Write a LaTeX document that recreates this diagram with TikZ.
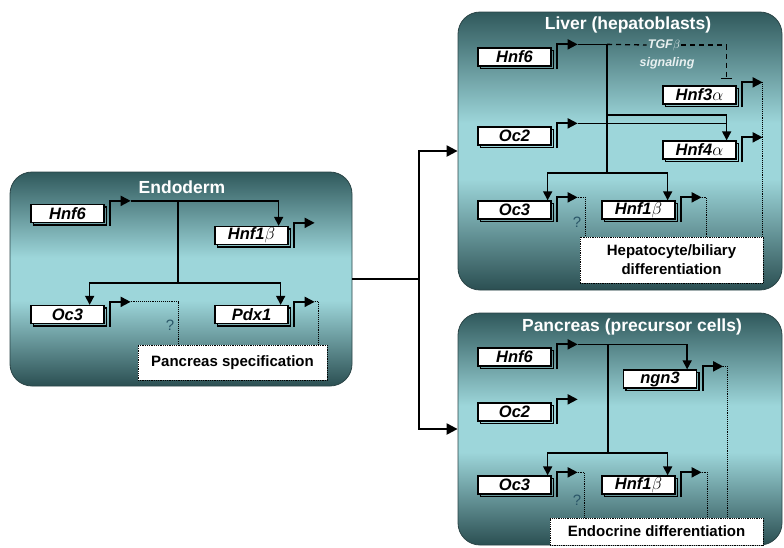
\documentclass[tikz,border=0pt]{standalone}
\usepackage{fontspec}
\setmainfont{Liberation Sans}
\usetikzlibrary{
  positioning,
  arrows.meta,
  calc,
}
\definecolor{panelDark}{HTML}{2B4F52}
\definecolor{panelTop}{HTML}{30595C}
\definecolor{panelLight}{HTML}{9DD6DA}
\definecolor{panelEdge}{HTML}{2A4446}
\definecolor{qCol}{HTML}{2A5668}
\definecolor{sigCol}{HTML}{E8F0F0}
\pgfdeclareverticalshading{panelshade}{100bp}{
  color(0bp)=(panelDark); color(25bp)=(panelDark); color(45bp)=(panelLight);
  color(55bp)=(panelLight); color(75bp)=(panelTop); color(100bp)=(panelTop)}
\newcommand{\genefont}{\fontsize{16.5}{18}\selectfont\bfseries\itshape}
\tikzset{
  panel/.style={
    rectangle, rounded corners=22pt, shading=panelshade, draw=panelEdge,
    line width=0.8pt, inner sep=0pt,
  },
  paneltitle/.style={font=\fontsize{17.5}{20}\selectfont\bfseries, text=white},
  genebox/.style={
    rectangle, draw, fill=white, line width=1.3pt, minimum width=73pt,
    minimum height=18pt, inner sep=0pt, font=\genefont,
  },
  geneshade/.style={
    rectangle, draw, line width=1.3pt, minimum width=73pt,
    minimum height=18pt, inner sep=0pt,
  },
  labelbox/.style={
    rectangle, draw, densely dotted, fill=white, line width=0.8pt,
    align=center, inner sep=0pt, font=\fontsize{15}{19}\selectfont\bfseries,
  },
  signal/.style={font=\fontsize{12.5}{14}\selectfont\bfseries\itshape, text=sigCol, inner sep=1pt},
  qmark/.style={font=\fontsize{15}{17}\selectfont, text=qCol},
  promoter/.style={line width=1.8pt, -{Triangle[length=10pt, width=10pt]}},
  link/.style={line width=1.6pt},
  arrow/.style={link, -{Triangle[length=9pt, width=9pt]}},
  biglink/.style={line width=2.2pt},
  bigarrow/.style={biglink, -{Triangle[length=11pt, width=11pt]}},
  dotlink/.style={line width=0.9pt, densely dotted},
  dashlink/.style={line width=1.3pt, dash pattern=on 5pt off 4pt},
  inhib/.style={dashlink, -{Bar[width=11pt, line width=1.5pt]}},
}
% gene: name, x, y, label
\newcommand{\gene}[4]{%
  \node[geneshade] (#1-sh) at ($(#2,#3)+(2.5,2.5)$) {};
  \node[genebox] (#1) at (#2,#3) {#4};
  \coordinate (#1-tip) at ($(#1.north east)+(26,-3)$);
  \draw[promoter] ($(#1.south east)+(5.5,2.5)$) |- (#1-tip);
}

\begin{document}
\begin{tikzpicture}[x=1pt, y=-1pt]
  \useasboundingbox (0,0) rectangle (784,547);

  % Panels
  \node[panel, minimum width=342pt, minimum height=214pt] (endo) at (181,279) {};
  \node[panel, minimum width=324pt, minimum height=278pt] (liver) at (620,151) {};
  \node[panel, minimum width=324pt, minimum height=232pt] (panc) at (620,429) {};

  \node[paneltitle] (endoT) at (182,187) {Endoderm};
  \node[paneltitle] (liverT) at (628,25) {Liver (hepatoblasts)};
  \node[paneltitle] (pancT) at (632,327) {Pancreas (precursor cells)};

  % Endoderm
  \gene{eHnf6}{67.5}{213.5}{Hnf6}
  \gene{eHnf1b}{251.5}{235.5}{Hnf1$\beta$}
  \gene{eOc3}{67.5}{314.5}{Oc3}
  \gene{ePdx1}{251.5}{314.5}{Pdx1}
  \node[labelbox, minimum width=189pt, minimum height=35pt] (spec) at (232.5,362.5) {Pancreas specification};
  \node[qmark] (eQ) at (170,325) {?};

  \coordinate (eJoin) at (178,283);
  \draw[arrow] (eHnf6-tip) -| ([xshift=-10pt]eHnf1b.north east);
  \draw[link] (eHnf6-tip -| eJoin) -- (eJoin);
  \draw[arrow] (eJoin) -| ([xshift=-15pt]eOc3.north east);
  \draw[arrow] (eJoin) -| ([xshift=-8pt]ePdx1.north east);
  \draw[dotlink] (eOc3-tip) -| ([xshift=41pt]spec.north west);
  \draw[dotlink] (ePdx1-tip) -| ([xshift=-9pt]spec.north east);

  % Endoderm to liver and pancreas
  \coordinate (fork) at (419,279);
  \draw[biglink] (endo.east) -- (fork);
  \draw[bigarrow] (fork) |- (liver.west);
  \draw[bigarrow] (fork) |- (panc.west);

  % Liver
  \gene{lHnf6}{514.5}{57}{Hnf6}
  \gene{lHnf3a}{699.5}{95}{Hnf3$\alpha$}
  \gene{lOc2}{514.5}{136}{Oc2}
  \gene{lHnf4a}{699.5}{150}{Hnf4$\alpha$}
  \gene{lOc3}{514.5}{210}{Oc3}
  \gene{lHnf1b}{638.5}{210}{Hnf1$\beta$}
  \node[labelbox, minimum width=183pt, minimum height=46pt] (hep) at (671.5,260) {Hepatocyte/biliary\\differentiation};
  \node[qmark] (lQ) at (577,222) {?};
  \node[signal] (tgf) at (664,45) {TGF$\beta$};
  \node[signal] (sig) at (667,63) {signaling};

  \coordinate (lJoin) at (607,173);
  \coordinate (l4) at (607,115);
  \draw[link] (lHnf6-tip) -- (lHnf6-tip -| lJoin);
  \draw[dashlink] (lHnf6-tip -| lJoin) -- (tgf.west);
  \draw[inhib] (tgf.east) -| ([xshift=-10pt, yshift=6pt]lHnf3a.north east);
  \draw[link] (lHnf6-tip -| lJoin) -- (lJoin);
  \draw[arrow] (l4) -| ([xshift=-10pt]lHnf4a.north east);
  \draw[link] (lOc2-tip) -- ($(lOc2-tip -| lHnf4a.north east)+(-10,0)$);
  \draw[arrow] (lJoin) -| ([xshift=-4pt]lOc3.north east);
  \draw[arrow] (lJoin) -| ([xshift=-8pt]lHnf1b.north east);
  \draw[dotlink] (lOc3-tip) -| ([xshift=6pt]hep.north west);
  \draw[dotlink] (lHnf1b-tip) -| ([xshift=-57pt]hep.north east);
  \draw[dotlink] (lHnf3a-tip) -- (lHnf3a-tip |- hep.north);

  % Pancreas
  \gene{pHnf6}{514.5}{357}{Hnf6}
  \gene{pngn3}{660}{379}{ngn3}
  \gene{pOc2}{514.5}{412}{Oc2}
  \gene{pOc3}{514.5}{485}{Oc3}
  \gene{pHnf1b}{638.5}{485}{Hnf1$\beta$}
  \node[labelbox, minimum width=213pt, minimum height=27pt] (endoc) at (656.5,531.5) {Endocrine differentiation};
  \node[qmark] (pQ) at (577,500) {?};

  \coordinate (pJoin) at (608,453);
  \draw[arrow] (pHnf6-tip) -| ([xshift=-10pt]pngn3.north east);
  \draw[link] (pHnf6-tip -| pJoin) -- (pJoin);
  \draw[arrow] (pJoin) -| ([xshift=-4pt]pOc3.north east);
  \draw[arrow] (pJoin) -| ([xshift=-8pt]pHnf1b.north east);
  \draw[dotlink] (pOc3-tip) -| ([xshift=35pt]endoc.north west);
  \draw[dotlink] (pHnf1b-tip) -| ([xshift=-56pt]endoc.north east);
  \draw[dotlink] (pngn3-tip) -| ([xshift=-36pt]endoc.north east);

\end{tikzpicture}
\end{document}
